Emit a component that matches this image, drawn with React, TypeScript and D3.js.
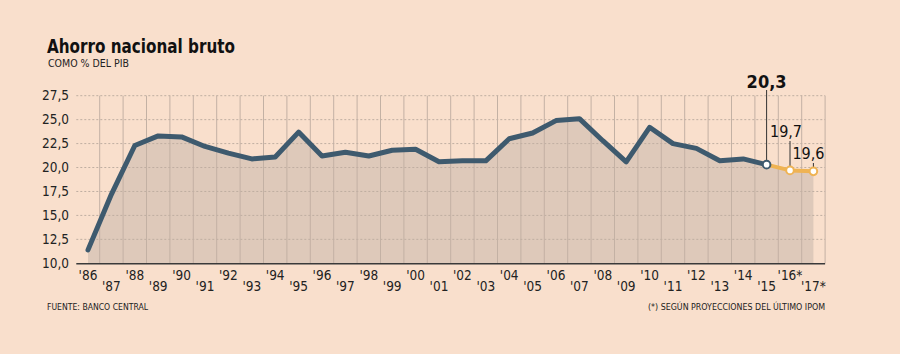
import React from "react";
import * as d3 from "d3";

const years = ["'86","'87","'88","'89","'90","'91","'92","'93","'94","'95","'96","'97","'98","'99","'00","'01","'02","'03","'04","'05","'06","'07","'08","'09","'10","'11","'12","'13","'14","'15","'16*","'17*"];
const values = [11.4,17.2,22.3,23.3,23.2,22.2,21.5,20.9,21.1,23.7,21.2,21.6,21.2,21.8,21.9,20.6,20.7,20.7,23.0,23.6,24.9,25.1,22.8,20.6,24.2,22.5,22.0,20.7,20.9,20.3,19.7,19.6];
const yTicks = [10, 12.5, 15, 17.5, 20, 22.5, 25, 27.5];
const projStart = 29; // index of '15
const annotations = [
  { i: 29, label: "20,3", bold: true },
  { i: 30, label: "19,7", bold: false },
  { i: 31, label: "19,6", bold: false },
];

const W = 900, H = 354;
const FONT = "'DejaVu Sans Condensed', 'DejaVu Sans', sans-serif";

export default function App() {
  const x = d3.scaleBand<number>().domain(d3.range(years.length)).range([76.3, 825.1]).padding(0);
  const cx = (i: number) => (x(i) as number) + x.bandwidth() / 2;
  const y = d3.scaleLinear().domain([10, 27.5]).range([263.3, 95.7]);
  const fmt = (v: number) => d3.format(".1f")(v).replace(".", ",");

  const idx = d3.range(values.length);
  const area = d3.area<number>().x(cx).y0(y(10)).y1((i) => y(values[i]))(idx) as string;
  const line = d3.line<number>().x(cx).y((i) => y(values[i]));
  const histLine = line(idx.filter((i) => i <= projStart)) as string;
  const projLine = line(idx.filter((i) => i >= projStart)) as string;

  const bg = "#f9dfcc";
  const x0 = 76.3, x1 = 825.1;

  return (
    <svg width={W} height={H} style={{ position: "absolute", left: 0, top: 0, display: "block" }} fontFamily={FONT}>
      <rect x={0} y={0} width={W} height={H} fill={bg} />
      <text x={47} y={53} fontSize={19} fontWeight="bold" fill="#111" textLength={188} lengthAdjust="spacingAndGlyphs">Ahorro nacional bruto</text>
      <text x={48} y={67} fontSize={10} fill="#222" textLength={81} lengthAdjust="spacingAndGlyphs">COMO % DEL PIB</text>

      <path d={area} fill="#dec9ba" />

      {yTicks.filter((t) => t > 10).map((t) => (
        <line key={t} x1={x0} x2={x1} y1={y(t)} y2={y(t)} stroke="#bfaea1" strokeWidth={1} strokeDasharray="2,2" />
      ))}
      {idx.slice(1).map((i) => (
        <line key={i} x1={x(i) as number} x2={x(i) as number} y1={y(27.5)} y2={y(10)} stroke="#c3b1a4" strokeWidth={1} />
      ))}
      <line x1={x1} x2={x1} y1={y(27.5)} y2={y(10)} stroke="#c3b1a4" strokeWidth={1} />

      <line x1={x0} x2={x1} y1={y(10) + 0.5} y2={y(10) + 0.5} stroke="#3a3a3a" strokeWidth={1.5} />

      {yTicks.map((t) => (
        <text key={t} x={69} y={y(t) + 4.5} fontSize={13.5} textAnchor="end" fill="#222">{fmt(t)}</text>
      ))}
      {years.map((lab, i) => (
        <text key={lab} x={cx(i)} y={i % 2 === 0 ? 280 : 291} fontSize={13.5} textAnchor="middle" fill="#222">{lab}</text>
      ))}

      <path d={projLine} fill="none" stroke="#efb353" strokeWidth={4} strokeLinejoin="round" strokeLinecap="round" />
      <path d={histLine} fill="none" stroke="#3e5a6e" strokeWidth={5} strokeLinejoin="round" strokeLinecap="round" />

      {annotations.map((a) => {
        const px = cx(a.i), py = y(values[a.i]);
        const ly = a.bold ? 90 : a.i === 30 ? 141 : 163;
        const ty = a.bold ? 88 : a.i === 30 ? 137 : 159;
        const tx = a.bold ? px : a.i === 30 ? px - 4 : px - 5;
        return (
          <g key={a.i}>
            <line x1={px} x2={px} y1={ly} y2={py - 4} stroke="#333" strokeWidth={1} />
            <text x={tx} y={ty} fontSize={a.bold ? 18 : 16} fontWeight={a.bold ? "bold" : "normal"} textAnchor="middle" fill="#111">{a.label}</text>
          </g>
        );
      })}
      {annotations.map((a) => (
        <circle key={a.i} cx={cx(a.i)} cy={y(values[a.i])} r={3.8} fill="#ffffff" stroke={a.i === projStart ? "#3e5a6e" : "#efb353"} strokeWidth={2} />
      ))}

      <text x={47} y={310} fontSize={9.5} fill="#222" textLength={101} lengthAdjust="spacingAndGlyphs">FUENTE: BANCO CENTRAL</text>
      <text x={825} y={310} fontSize={9.5} fill="#222" textAnchor="end" textLength={177} lengthAdjust="spacingAndGlyphs">(*) SEGÚN PROYECCIONES DEL ÚLTIMO IPOM</text>
    </svg>
  );
}
